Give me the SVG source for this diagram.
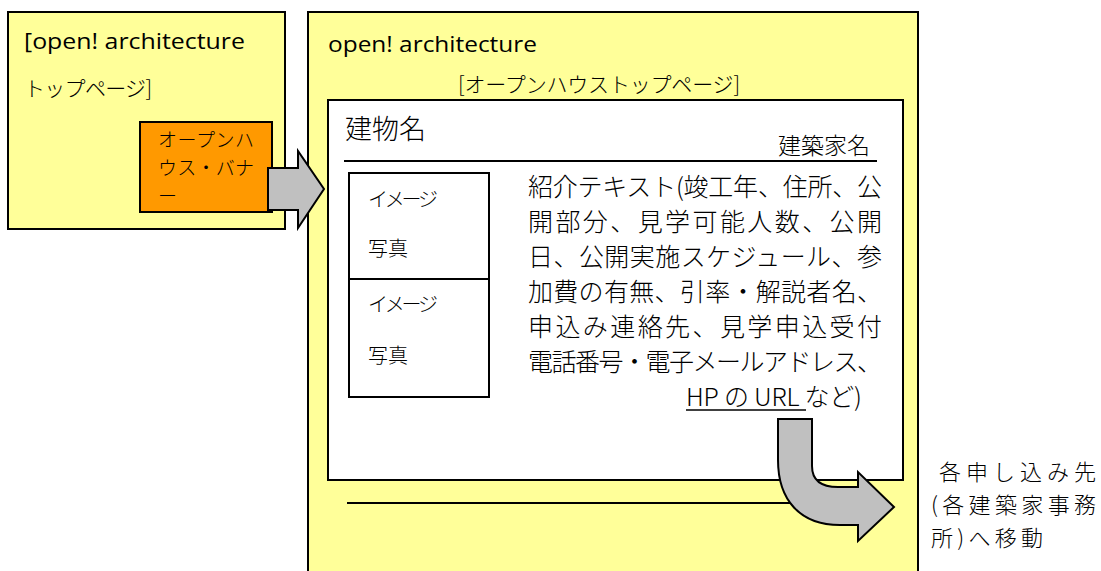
<svg xmlns="http://www.w3.org/2000/svg" width="1101" height="571" viewBox="0 0 1101 571">
<style>
.box{stroke:#000;stroke-width:2}
.y{fill:#FFFF99}
.t{font-family:"Noto Sans CJK JP","Noto Sans",sans-serif;font-weight:300;fill:#000}
.l{font-family:"Open Sans","Noto Sans",sans-serif;fill:#000}
.arrow{fill:#C0C0C0;stroke:#000;stroke-width:2;stroke-linejoin:miter}
.ln{stroke:#000;stroke-width:2;fill:none}
</style>
<rect width="1101" height="571" fill="#fff"/>
<g id="top-page">
<rect class="box y" x="8" y="12" width="277" height="217"/>
<text class="l" x="24" y="49" font-size="21" textLength="221" lengthAdjust="spacingAndGlyphs">[open! architecture</text>
<text class="t" x="24" y="96" font-size="21" textLength="128" lengthAdjust="spacing">トップページ]</text>
</g>
<g id="banner">
<rect class="box" x="140" y="122" width="132" height="90" fill="#FF9900"/>
<text class="t" font-size="19" fill="#222"><tspan x="158" y="147" textLength="96" lengthAdjust="spacing">オープンハ</tspan><tspan x="158" y="175" textLength="96" lengthAdjust="spacing">ウス・バナ</tspan><tspan x="158" y="203">ー</tspan></text>
</g>
<g id="openhouse-page">
<rect class="box y" x="308" y="12" width="610" height="580"/>
<text class="l" x="328" y="52" font-size="21" textLength="209" lengthAdjust="spacingAndGlyphs">open! architecture</text>
<text class="t" x="458" y="92" font-size="21" textLength="282" lengthAdjust="spacing">[オープンハウストップページ]</text>
<line class="ln" x1="347" y1="503" x2="800" y2="503"/>
</g>
<g id="building">
<rect class="box" x="328" y="100" width="575" height="380" fill="#fff"/>
<text class="t" x="345" y="139" font-size="27">建物名</text>
<text class="t" x="870" y="154" font-size="23" text-anchor="end">建築家名</text>
<line class="ln" x1="344" y1="161" x2="877" y2="161"/>
</g>
<g id="images">
<rect class="box" x="349" y="173" width="140" height="224" fill="#fff"/>
<line class="ln" x1="349" y1="279" x2="489" y2="279"/>
<text class="t" font-size="20"><tspan x="368" y="207" textLength="70" lengthAdjust="spacing">イメージ</tspan><tspan x="368" y="256">写真</tspan><tspan x="368" y="312" textLength="70" lengthAdjust="spacing">イメージ</tspan><tspan x="368" y="363">写真</tspan></text>
</g>
<g id="intro-text" class="t" font-size="25">
<text x="528" y="196" textLength="354" lengthAdjust="spacing">紹介テキスト(竣工年、住所、公</text>
<text x="528" y="231" textLength="354" lengthAdjust="spacing">開部分、見学可能人数、公開</text>
<text x="528" y="266" textLength="354" lengthAdjust="spacing">日、公開実施スケジュール、参</text>
<text x="528" y="301" textLength="354" lengthAdjust="spacing">加費の有無、引率・解説者名、</text>
<text x="528" y="336" textLength="354" lengthAdjust="spacing">申込み連絡先、見学申込受付</text>
<text x="528" y="371" textLength="354" lengthAdjust="spacing">電話番号・電子メールアドレス、</text>
<text x="686" y="406" textLength="176" lengthAdjust="spacing">HP の URL など)</text>
<line x1="686" y1="410" x2="806" y2="410" stroke="#000" stroke-width="1.5"/>
</g>
<g id="destination">
<text class="t" font-size="22"><tspan x="939" y="480" textLength="157" lengthAdjust="spacing">各申し込み先</tspan><tspan x="931" y="513" textLength="165" lengthAdjust="spacing">(各建築家事務</tspan><tspan x="931" y="546" textLength="112" lengthAdjust="spacing">所)へ移動</tspan></text>
</g>
<g id="connectors">
<path class="arrow" d="M268,168 L298,168 L298,151 L324,189 L298,228 L298,210 L268,210 Z"/>
<path class="arrow" d="M778,419 L812,419 L812,466 Q812,487 838,487 L858,487 L858,472 L894,507 L858,541 L858,525 L840,525 C800,525 778,500 778,460 Z"/>
</g>
</svg>
